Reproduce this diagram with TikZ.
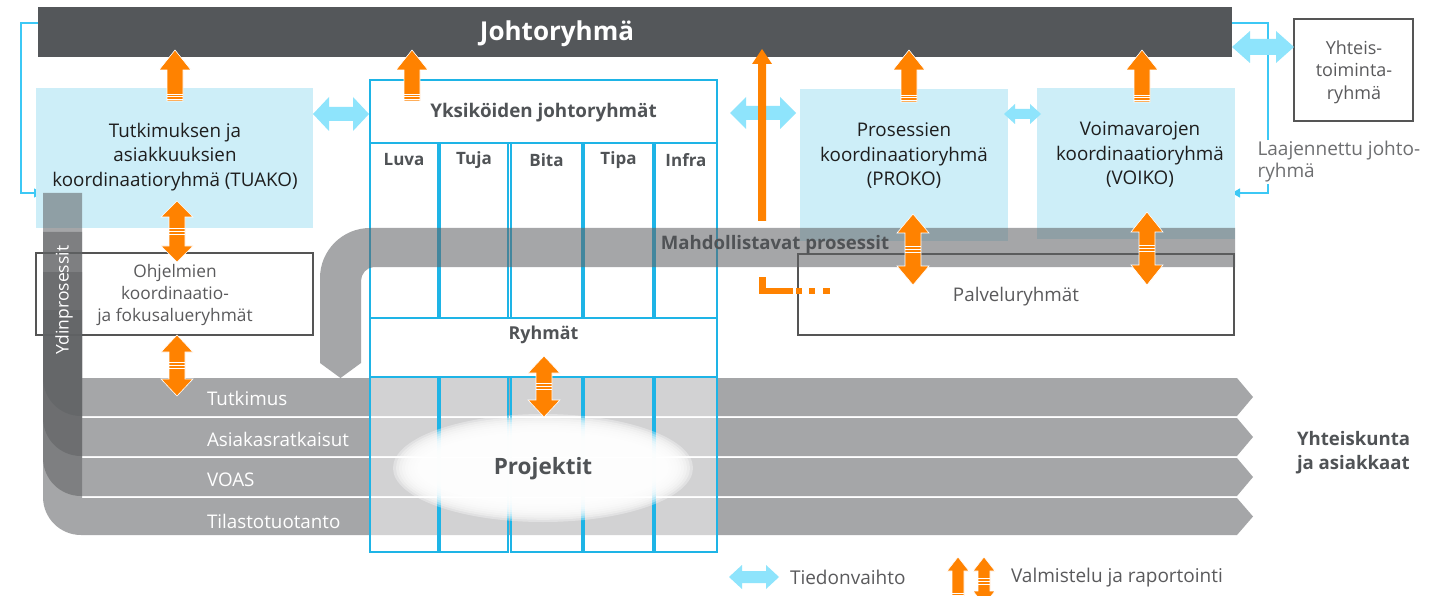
\documentclass[tikz,border=0pt]{standalone}
\usepackage{fontspec}
\setmainfont{Open Sans}
\usetikzlibrary{arrows.meta}
\definecolor{barc}{RGB}{84,87,90}
\definecolor{orng}{RGB}{255,130,0}
\definecolor{lblue}{RGB}{142,228,252}
\definecolor{boxblue}{RGB}{205,238,248}
\definecolor{cyanline}{RGB}{30,180,230}
\definecolor{fbline}{RGB}{60,200,245}
\definecolor{bandgray}{RGB}{96,98,100}
\definecolor{txtgray}{RGB}{80,83,86}
\definecolor{boxline}{RGB}{85,85,85}
\definecolor{darktxt}{RGB}{30,30,30}
\definecolor{midtxt}{RGB}{90,90,92}
\definecolor{lighttxt}{RGB}{110,111,113}
\newcommand\OUp[6]{% x, ytip, ybase, headhalf, shafthalf, headlen
  \fill[orng,draw=white,line width=0.6pt] (#1,#2) -- (#1+#4,#2+#6) -- (#1+#5,#2+#6) -- (#1+#5,#3) -- (#1-#5,#3) -- (#1-#5,#2+#6) -- (#1-#4,#2+#6) -- cycle;
  \foreach \s in {2,4.5,7} \draw[white,line width=0.6pt] (#1-#5,#3-\s) -- (#1+#5,#3-\s);
}
\newcommand\ODbl[6]{% x, ytop, ybot, headhalf, shafthalf, headlen
  \fill[orng,draw=white,line width=0.6pt] (#1,#2) -- (#1+#4,#2+#6) -- (#1+#5,#2+#6) -- (#1+#5,#3-#6) -- (#1+#4,#3-#6) -- (#1,#3) -- (#1-#4,#3-#6) -- (#1-#5,#3-#6) -- (#1-#5,#2+#6) -- (#1-#4,#2+#6) -- cycle;
  \foreach \s in {-3,0,3} \draw[white,line width=0.6pt] (#1-#5,{(#2+#3)/2+\s}) -- (#1+#5,{(#2+#3)/2+\s});
}
\newcommand\BDbl[6]{% xl, xr, y, headhalf, shafthalf, headlen
  \fill[lblue] (#1,#3) -- (#1+#6,#3-#4) -- (#1+#6,#3-#5) -- (#2-#6,#3-#5) -- (#2-#6,#3-#4) -- (#2,#3) -- (#2-#6,#3+#4) -- (#2-#6,#3+#5) -- (#1+#6,#3+#5) -- (#1+#6,#3+#4) -- cycle;
}
\begin{document}
\begin{tikzpicture}[x=1pt,y=-1pt,
  every node/.style={inner sep=0pt,outer sep=0pt},
  bluebox/.style={fill=boxblue,anchor=north west},
  greybox/.style={draw=boxline,line width=1.2pt,anchor=north west},
  band/.style={fill=bandgray,fill opacity=0.56},
  cyanbox/.style={draw=cyanline,line width=1.2pt},
  fb/.style={draw=fbline,line width=1.3pt,-{Triangle[length=8pt,width=9pt]}},
  boxtxt/.style={text=darktxt,align=center,font=\fontsize{18.8}{24.5}\selectfont},
  greytxt/.style={text=midtxt,align=center,font=\fontsize{17.3}{22}\selectfont},
  boldtxt/.style={text=txtgray,font=\bfseries\fontsize{17}{22}\selectfont},
  proctxt/.style={text=white,anchor=west,font=\fontsize{18.8}{20}\selectfont}]
\useasboundingbox (0,0) rectangle (1454,596);
\clip (0,0) rectangle (1454,596);
\fill[white] (0,0) rectangle (1454,596);

% feedback lines
\draw[fb] (38,23) -| (21,193) -- (42,193);
\draw[fb] (1232,23) -| (1268,193) -- (1232,193);

% top bar
\node[fill=barc,anchor=north west,minimum width=1194pt,minimum height=50pt] (jr) at (38,7) {};
\node[text=white,font=\bfseries\fontsize{26}{30}\selectfont] (jrt) at (557,34) {Johtoryhmä};

% coordination boxes
\node[bluebox,minimum width=277pt,minimum height=140pt] (tuako) at (36,88) {};
\node[bluebox,minimum width=208pt,minimum height=152pt] (proko) at (800,89) {};
\node[bluebox,minimum width=198pt,minimum height=151pt] (voiko) at (1037,88) {};
\node[greybox,minimum width=277pt,minimum height=82pt] (ohj) at (36,253) {};
\node[greybox,minimum width=436pt,minimum height=81pt] (palv) at (798,254) {};
\node[greybox,minimum width=119pt,minimum height=102pt] (yht) at (1294,19) {};

% Yksikoiden box (upper part)
\draw[cyanbox,fill=white] (370,80) rectangle (717,143);
\node (yks) at (543.5,111.5) {};
\foreach \a/\b in {370/438,440/508,511/582,584/653,655/717}
  \draw[cyanbox] (\a,143) rectangle (\b,318);
\draw[cyanbox] (370,318) rectangle (717,377);

% core processes (L shaped bands)
\foreach \S/\T/\B in {310/378/416,272/418/456,232/458/496,193/498/535}
  \fill[band] (43,\S) -- (82,\S) -- (82,\T) -- (1237,\T) -- (1253,{(\T+\B)/2}) -- (1237,\B) -- (81,\B)
     .. controls (60,\B) and (43,\B-17) .. (43,\B-38) -- cycle;

% enabling processes band
\fill[band] (1235,228) -- (370,228) .. controls (342.4,228) and (320,250.4) .. (320,278)
  -- (320,363) -- (340.5,378) -- (361,363) -- (361,281)
  .. controls (361,273.8) and (366.8,267) .. (374,267) -- (1235,267) -- cycle;

% lower columns
\foreach \a/\b in {370/438,440/508,511/582,584/653,655/717}
  \draw[cyanbox,fill=white,fill opacity=0.5] (\a,377) rectangle (\b,552);

% projects glow
\foreach \k in {0,...,11}
  \fill[white,fill opacity=0.34] (543,468) ellipse [x radius={150-3*\k}, y radius={54-2.2*\k}];

% light blue exchange arrows
\BDbl{313}{369}{114}{17}{7}{16}
\BDbl{730}{796}{113}{16}{7}{16}
\BDbl{1004}{1041}{114}{10}{5}{11}
\BDbl{1232}{1294}{47}{16}{8}{18}
\BDbl{729}{779}{577}{12}{6}{13}

% orange arrows
\OUp{175}{50}{101}{16}{8}{20}
\OUp{412}{50}{101}{16}{8}{20}
\OUp{909}{50}{102}{16}{8}{20}
\OUp{1142}{50}{102}{16}{8}{20}
\fill[orng] (762,49) -- (772,64) -- (766,64) -- (766,221) -- (758,221) -- (758,64) -- (752,64) -- cycle;
\fill[orng] (759,277) rectangle (766,294);
\fill[orng] (759,288) rectangle (793,294);
\fill[orng] (796,288) rectangle (802,294);
\fill[orng] (809,288) rectangle (815,294);
\fill[orng] (823,288) rectangle (830,294);
\ODbl{177}{201}{262}{16}{8}{16}
\ODbl{177}{335}{396}{16}{8}{17}
\ODbl{544}{356}{417}{16}{8}{17}
\ODbl{913}{214}{285}{16}{8}{19}
\ODbl{1147}{212}{285}{16}{8}{20}
\OUp{958}{557}{600}{11}{6}{14}
\ODbl{984}{557}{605}{11}{6}{14}

% texts
\node[boxtxt] (tuakot) at (175,157) {Tutkimuksen ja\\asiakkuuksien\\koordinaatioryhmä (TUAKO)};
\node[boxtxt] (prokot) at (904,156) {Prosessien\\koordinaatioryhmä\\(PROKO)};
\node[boxtxt] (voikot) at (1140,155) {Voimavarojen\\koordinaatioryhmä\\(VOIKO)};
\node[greytxt] (ohjt) at (175,295) {Ohjelmien\\koordinaatio-\\ja fokusalueryhmät};
\node[greytxt,font=\fontsize{18.8}{22}\selectfont] (palvt) at (1016,297) {Palveluryhmät};
\node[greytxt,font=\fontsize{18}{22.5}\selectfont] (yhtt) at (1354,72) {Yhteis-\\toiminta-\\ryhmä};
\node[greytxt,align=left,anchor=north west,text=lighttxt,fill=white,inner sep=1.5pt,font=\fontsize{19}{22}\selectfont] (laaj) at (1256,140) {Laajennettu johto-\\ryhmä};
\node[boldtxt,font=\bfseries\fontsize{18.8}{22}\selectfont] (yksot) at (543.5,113) {Yksiköiden johtoryhmät};
\foreach \n/\x in {Luva/404,Tuja/474,Bita/546.5,Tipa/618.5,Infra/686}
  \node[boldtxt] at (\x,160) {\n};
\node[boldtxt,font=\bfseries\fontsize{17.8}{22}\selectfont] (ryht) at (543.5,335) {Ryhmät};
\node[boldtxt,font=\bfseries\fontsize{22.5}{26}\selectfont] (projt) at (543,469) {Projektit};
\node[boldtxt,font=\bfseries\fontsize{18.6}{22}\selectfont] (mahdt) at (775,245) {Mahdollistavat prosessit};
\node[proctxt] (p1) at (207,398) {Tutkimus};
\node[proctxt] (p2) at (207,439) {Asiakasratkaisut};
\node[proctxt] (p3) at (207,480) {VOAS};
\node[proctxt] (p4) at (207,521) {Tilastotuotanto};
\node[proctxt,anchor=center,rotate=90,font=\fontsize{17.5}{20}\selectfont] (ydin) at (64,300) {Ydinprosessit};
\node[boldtxt,align=left,anchor=north west,font=\bfseries\fontsize{18.6}{24}\selectfont] (yhtk) at (1297,431) {Yhteiskunta\\ja asiakkaat};
\node[greytxt,anchor=west,font=\fontsize{19}{22}\selectfont] (leg1) at (790,577) {Tiedonvaihto};
\node[greytxt,anchor=west,font=\fontsize{19}{22}\selectfont] (leg2) at (1011,578) {Valmistelu ja raportointi};
\end{tikzpicture}
\end{document}
